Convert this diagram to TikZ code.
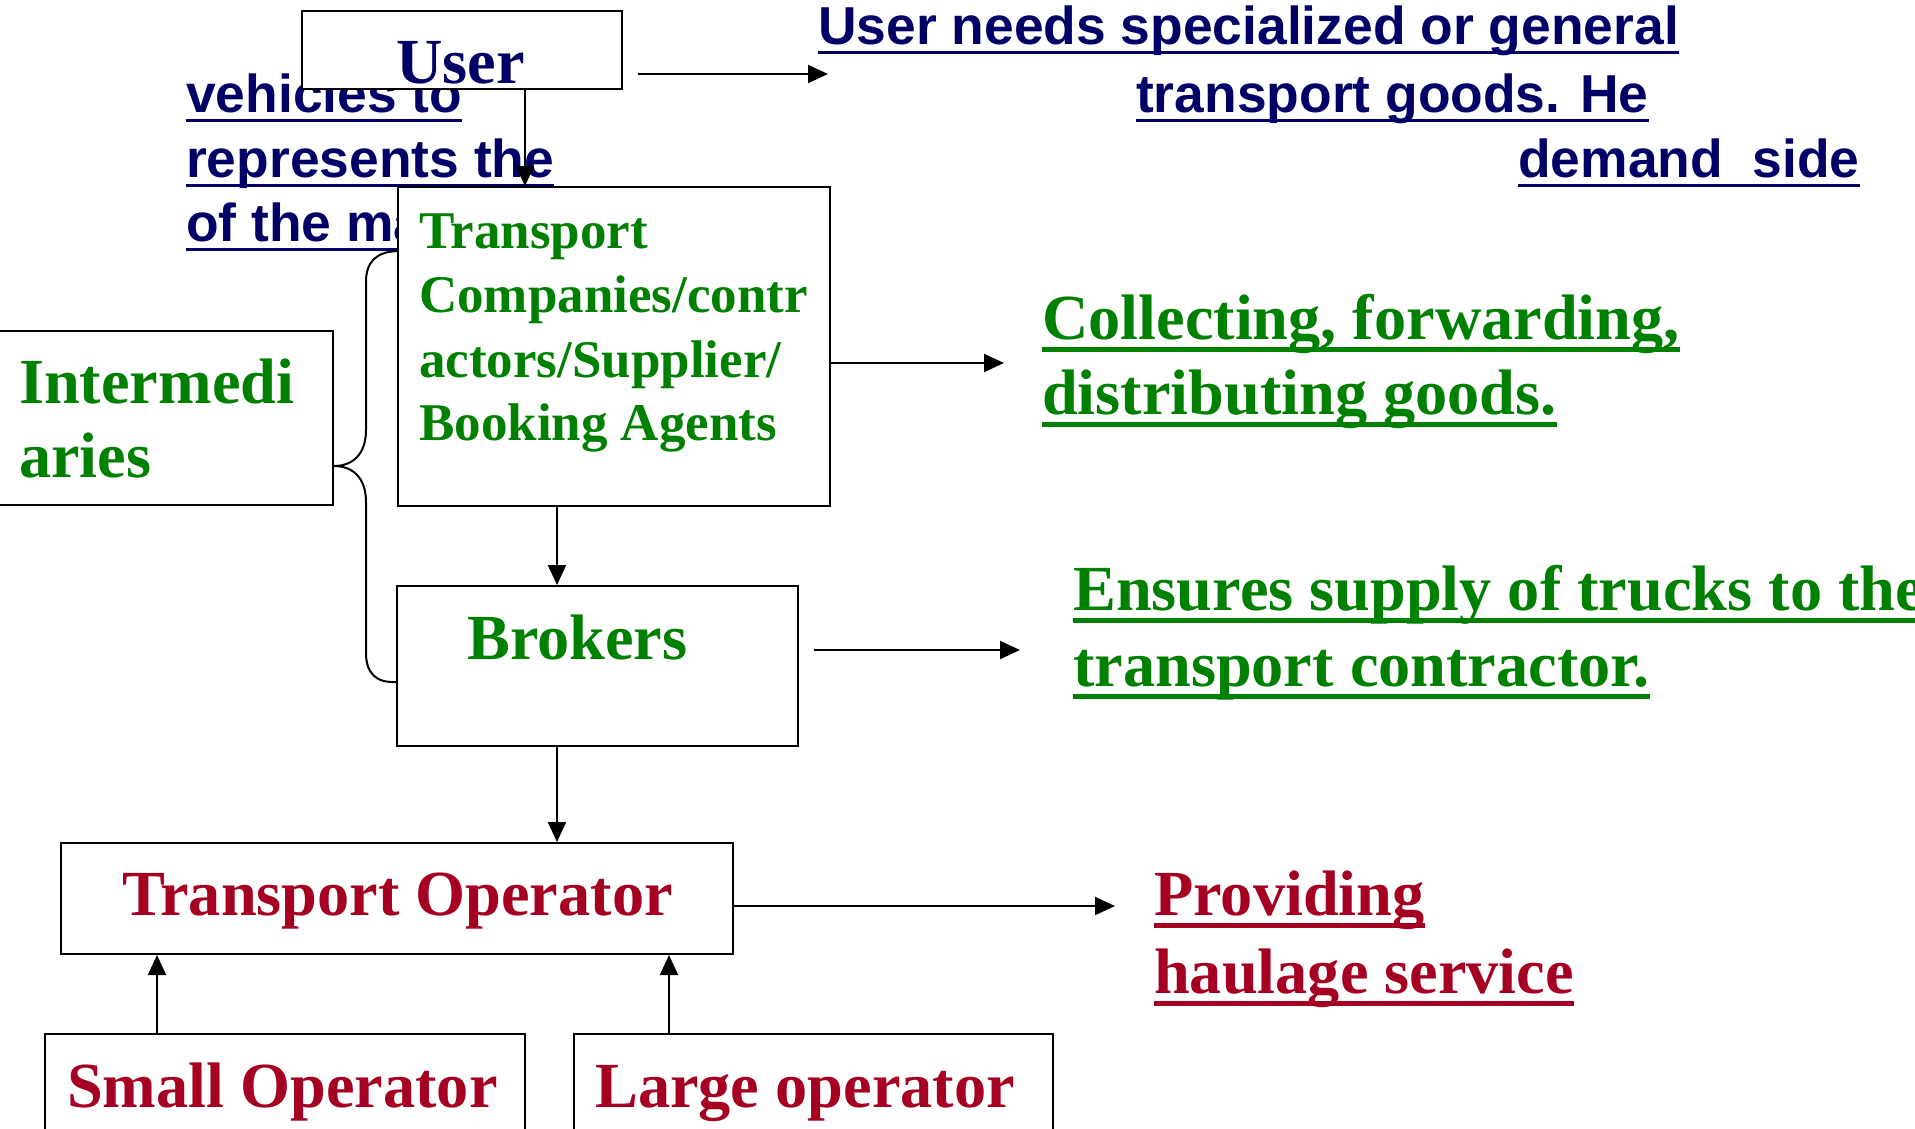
\documentclass[tikz,border=0pt]{standalone}
\usepackage{fontspec}
\setmainfont{Liberation Serif}
\newfontfamily\arialf{Liberation Sans}
\usetikzlibrary{arrows.meta}
\definecolor{navy}{RGB}{0,0,102}
\definecolor{leaf}{RGB}{0,128,0}
\definecolor{wine}{RGB}{165,0,33}
\tikzset{
  box/.style={draw=black, line width=2pt, fill=white, rectangle, inner sep=0pt},
  conn/.style={line width=2pt, draw=black},
  arr/.style={conn, -{Triangle[length=20pt,width=18pt]}},
  txt/.style={inner sep=0pt, anchor=base west},
  bluet/.style={txt, text=navy, font=\arialf\bfseries\fontsize{53.4}{60}\selectfont},
  bigt/.style={txt, font=\bfseries\fontsize{64.3}{74}\selectfont},
  midt/.style={txt, text=leaf, font=\bfseries\fontsize{53}{64}\selectfont},
  gtext/.style={bigt, text=leaf},
  rtext/.style={bigt, text=wine},
  ulb/.style={draw=navy, line width=3pt},
  ulg/.style={draw=leaf, line width=5pt},
  ulr/.style={draw=wine, line width=5pt}
}
\begin{document}
\begin{tikzpicture}[x=1pt,y=-1pt]
\useasboundingbox (0,0) rectangle (1915,1128);
\clip (0,0) rectangle (1915,1128);

% demand-side description (partly behind the boxes)
\node[bluet] (b1) at (818,44) {User needs specialized or general};
\node[bluet] (b2) at (1136,112) {transport goods. He};
\node[bluet] (b3) at (1518,177) {demand~ side};
\node[bluet] (b4) at (186,112) {vehicles to};
\node[bluet] (b5) at (186,177) {represents the};
\node[bluet] (b6) at (186,241) {of the ma};
\foreach \n in {b1,b2,b3,b4,b5,b6}
  \draw[ulb] ([yshift=-8pt]\n.base west) -- ([yshift=-8pt]\n.base east);

% intermediaries bracket
\node[box, minimum width=343pt, minimum height=174pt] (inter) at (161.5,418) {};
\coordinate (jn) at ([yshift=-48pt]inter.east);

% boxes
\node[box, minimum width=320pt, minimum height=78pt] (user) at (462,50) {};
\node[box, minimum width=432pt, minimum height=319pt] (tcbox) at (614,346.5) {};
\node[box, minimum width=401pt, minimum height=160pt] (brk) at (597.5,666) {};
\node[box, minimum width=672pt, minimum height=111pt] (op) at (397,898.5) {};
\node[box, minimum width=480pt, minimum height=120pt] (small) at (285,1094) {};
\node[box, minimum width=479pt, minimum height=120pt] (large) at (813.5,1094) {};

\draw[conn] (jn) .. controls (352,466) and (366,455) .. (366,430) -- (366,282)
  .. controls (366,262) and (376,252) .. ([yshift=-65pt]tcbox.north west);
\draw[conn] (jn) .. controls (352,466) and (366,477) .. (366,502) -- (366,653)
  .. controls (366,673) and (376,683) .. ([yshift=-97pt]brk.north west);

% box texts
\node[bigt, text=navy] (usert) at (396,83) {User};
\node[midt] (tc1) at (419,248) {Transport};
\node[midt] (tc2) at (419,312) {Companies/contr};
\node[midt] (tc3) at (419,377) {actors/Supplier/};
\node[midt] (tc4) at (419,440) {Booking Agents};
\node[gtext] (in1) at (19,403) {Intermedi};
\node[gtext] (in2) at (19,477) {aries};
\node[gtext] (brkt) at (467,659) {Brokers};
\node[rtext] (opt) at (122,915) {Transport Operator};
\node[rtext] (smt) at (67,1107) {Small Operator};
\node[rtext] (lgt) at (595,1107) {Large operator};

% role descriptions
\node[gtext] (c1) at (1042,339) {Collecting, forwarding,};
\node[gtext] (c2) at (1042,414) {distributing goods.};
\node[gtext] (e1) at (1073,610) {Ensures supply of trucks to the};
\node[gtext] (e2) at (1073,686) {transport contractor.};
\node[rtext] (p1) at (1154,915) {Providing};
\node[rtext] (p2) at (1154,993) {haulage service};
\foreach \n in {c1,c2,e1,e2}
  \draw[ulg] ([yshift=-10pt]\n.base west) -- ([yshift=-10pt]\n.base east);
\foreach \n in {p1,p2}
  \draw[ulr] ([yshift=-10pt]\n.base west) -- ([yshift=-10pt]\n.base east);

% arrow columns and free arrow ends
\coordinate (xa) at (525,0);
\coordinate (xb) at (557,0);
\coordinate (xs) at (157,0);
\coordinate (xl) at (669,0);
\coordinate (ua) at (828,74);
\coordinate (ta) at (1004,363);
\coordinate (ba) at (1020,650);
\coordinate (oa) at (1115,906);

% vertical flow
\draw[arr] (user.south -| xa) -- (tcbox.north -| xa);
\draw[arr] (tcbox.south -| xb) -- (brk.north -| xb);
\draw[arr] (brk.south -| xb) -- (op.north -| xb);
\draw[arr] (small.north -| xs) -- (op.south -| xs);
\draw[arr] (large.north -| xl) -- (op.south -| xl);

% arrows to the descriptions
\draw[arr] ([xshift=15pt]user.east |- ua) -- (ua);
\draw[arr] (tcbox.east |- ta) -- (ta);
\draw[arr] ([xshift=15pt]brk.east |- ba) -- (ba);
\draw[arr] (op.east |- oa) -- (oa);
\end{tikzpicture}
\end{document}
